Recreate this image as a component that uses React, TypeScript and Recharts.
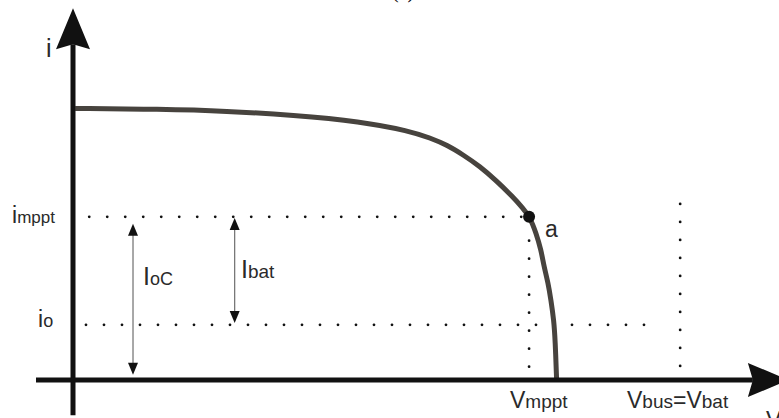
import React from "react"
import {
  ComposedChart, Line, XAxis, YAxis, ReferenceLine, ReferenceDot, Customized,
} from "recharts"

// I-V curve of the PV array (arbitrary units, 0..100 on both axes)
const CURVE_V = [0.3, 12.3, 21.8, 31.2, 40.7, 47.7, 50.6, 53.0, 55.3, 57.6, 60.0, 62.3, 63.7, 64.7, 65.6, 66.3, 66.7, 67.3, 67.7, 68.1, 68.3, 68.5]
const CURVE_I = [73.4, 73.2, 72.7, 71.6, 69.9, 67.3, 65.4, 63.5, 60.8, 57.8, 53.8, 49.5, 46.5, 44.1, 39.7, 35.1, 30.8, 26.2, 21.6, 16.2, 10.8, 0]

// operating points
const V_MPPT = 64.6
const I_MPPT = 44.1
const V_BUS = 86.0
const I_O = 14.9

// double arrows: [v, iFrom, iTo]
const ARROW_IOC = [8.5, 1.4, 42.2]
const ARROW_IBAT = [22.9, 15.4, 43.8]

const W = 779
const H = 418
const MARGIN = { top: 10, right: 0, bottom: 38, left: 73 }

const curveData = CURVE_V.map((v, k) => ({ v, i: CURVE_I[k] }))

const FONT = "'Liberation Sans', Arial, Helvetica, sans-serif"
const TEXT = "#2a2a2a"

function AxisArrow(props: any) {
  const { x1, y1, x2, y2 } = props
  const dx = x2 - x1
  const dy = y2 - y1
  const len = Math.hypot(dx, dy)
  const ux = dx / len
  const uy = dy / len
  const head = 41
  const half = 17
  const notch = 5
  const bx = x2 - ux * head
  const by = y2 - uy * head
  const nx = x2 - ux * (head - notch)
  const ny = y2 - uy * (head - notch)
  const pts = [
    [x2, y2],
    [bx - uy * half, by + ux * half],
    [nx, ny],
    [bx + uy * half, by - ux * half],
  ].map((p) => p.join(",")).join(" ")
  return (
    <g>
      <line x1={x1} y1={y1} x2={nx} y2={ny} stroke="#111" strokeWidth={5} />
      <polygon points={pts} fill="#111" />
    </g>
  )
}

function DoubleArrow(props: any) {
  const { x1, y1, x2, y2 } = props
  const head = 12
  const half = 5
  const top = Math.min(y1, y2)
  const bot = Math.max(y1, y2)
  return (
    <g>
      <line x1={x1} y1={top + head - 1} x2={x2} y2={bot - head + 1} stroke="#6e6e6e" strokeWidth={1.2} />
      <polygon points={`${x1},${top} ${x1 - half},${top + head} ${x1 + half},${top + head}`} fill="#111" />
      <polygon points={`${x1},${bot} ${x1 - half},${bot - head} ${x1 + half},${bot - head}`} fill="#111" />
    </g>
  )
}

const Labels = () => (
  <g fontFamily={FONT} fill={TEXT}>
    <text x={403} y={-2} textAnchor="middle" fontFamily="'Liberation Serif', 'Times New Roman', serif" fontSize={20} fill="#000">(a)</text>
    <text x={46} y={57} fontSize={25}>i</text>
    <text x={12} y={223} fontSize={23}>i<tspan fontSize={17}>mppt</tspan></text>
    <text x={38} y={327} fontSize={23}>i<tspan fontSize={18}>o</tspan></text>
    <text x={143} y={285} fontSize={25}>I<tspan fontSize={18}>oC</tspan></text>
    <text x={241} y={278} fontSize={25}>I<tspan fontSize={19}>bat</tspan></text>
    <text x={545} y={237} fontSize={23}>a</text>
    <text x={510} y={408} fontSize={23}>V<tspan fontSize={19}>mppt</tspan></text>
    <text x={627} y={408} fontSize={23}>V<tspan fontSize={19}>bus</tspan>=V<tspan fontSize={19}>bat</tspan></text>
    <text x={766} y={428} fontSize={23}>V</text>
  </g>
)

const DOT_STYLE = {
  stroke: "#111",
  strokeWidth: 2.8,
  strokeDasharray: "0 18",
  strokeLinecap: "round" as const,
}

export default function App() {
  return (
    <div style={{ position: "absolute", left: 0, top: 0, width: W, height: H, background: "#fff" }}>
      <ComposedChart width={W} height={H} data={curveData} margin={MARGIN}>
        <XAxis dataKey="v" type="number" domain={[0, 100]} hide />
        <YAxis type="number" domain={[0, 100]} hide />

        {/* dotted guide lines */}
        <ReferenceLine segment={[{ x: 2.3, y: I_MPPT }, { x: V_MPPT, y: I_MPPT }]} ifOverflow="visible" {...DOT_STYLE} />
        <ReferenceLine segment={[{ x: 1.84, y: I_O }, { x: 83.3, y: I_O }]} ifOverflow="visible" {...DOT_STYLE} />
        <ReferenceLine segment={[{ x: V_MPPT, y: 3.6 }, { x: V_MPPT, y: 40.5 }]} ifOverflow="visible" {...DOT_STYLE} />
        <ReferenceLine segment={[{ x: V_BUS, y: 3.8 }, { x: V_BUS, y: 47.8 }]} ifOverflow="visible" {...DOT_STYLE} />

        {/* current arrows */}
        <ReferenceLine segment={[{ x: ARROW_IOC[0], y: ARROW_IOC[1] }, { x: ARROW_IOC[0], y: ARROW_IOC[2] }]} ifOverflow="visible" shape={DoubleArrow} />
        <ReferenceLine segment={[{ x: ARROW_IBAT[0], y: ARROW_IBAT[1] }, { x: ARROW_IBAT[0], y: ARROW_IBAT[2] }]} ifOverflow="visible" shape={DoubleArrow} />

        <Line type="basis" dataKey="i" stroke="#47433e" strokeWidth={5} dot={false} isAnimationActive={false} />

        {/* axes with arrowheads */}
        <ReferenceLine segment={[{ x: 0, y: -9.5 }, { x: 0, y: 100.5 }]} ifOverflow="visible" shape={AxisArrow} />
        <ReferenceLine segment={[{ x: -5.24, y: 0 }, { x: 101.4, y: 0 }]} ifOverflow="visible" shape={AxisArrow} />

        <ReferenceDot x={V_MPPT} y={I_MPPT} r={6} fill="#111" stroke="none" ifOverflow="visible" />

        <Customized component={<Labels />} />
      </ComposedChart>
    </div>
  )
}
